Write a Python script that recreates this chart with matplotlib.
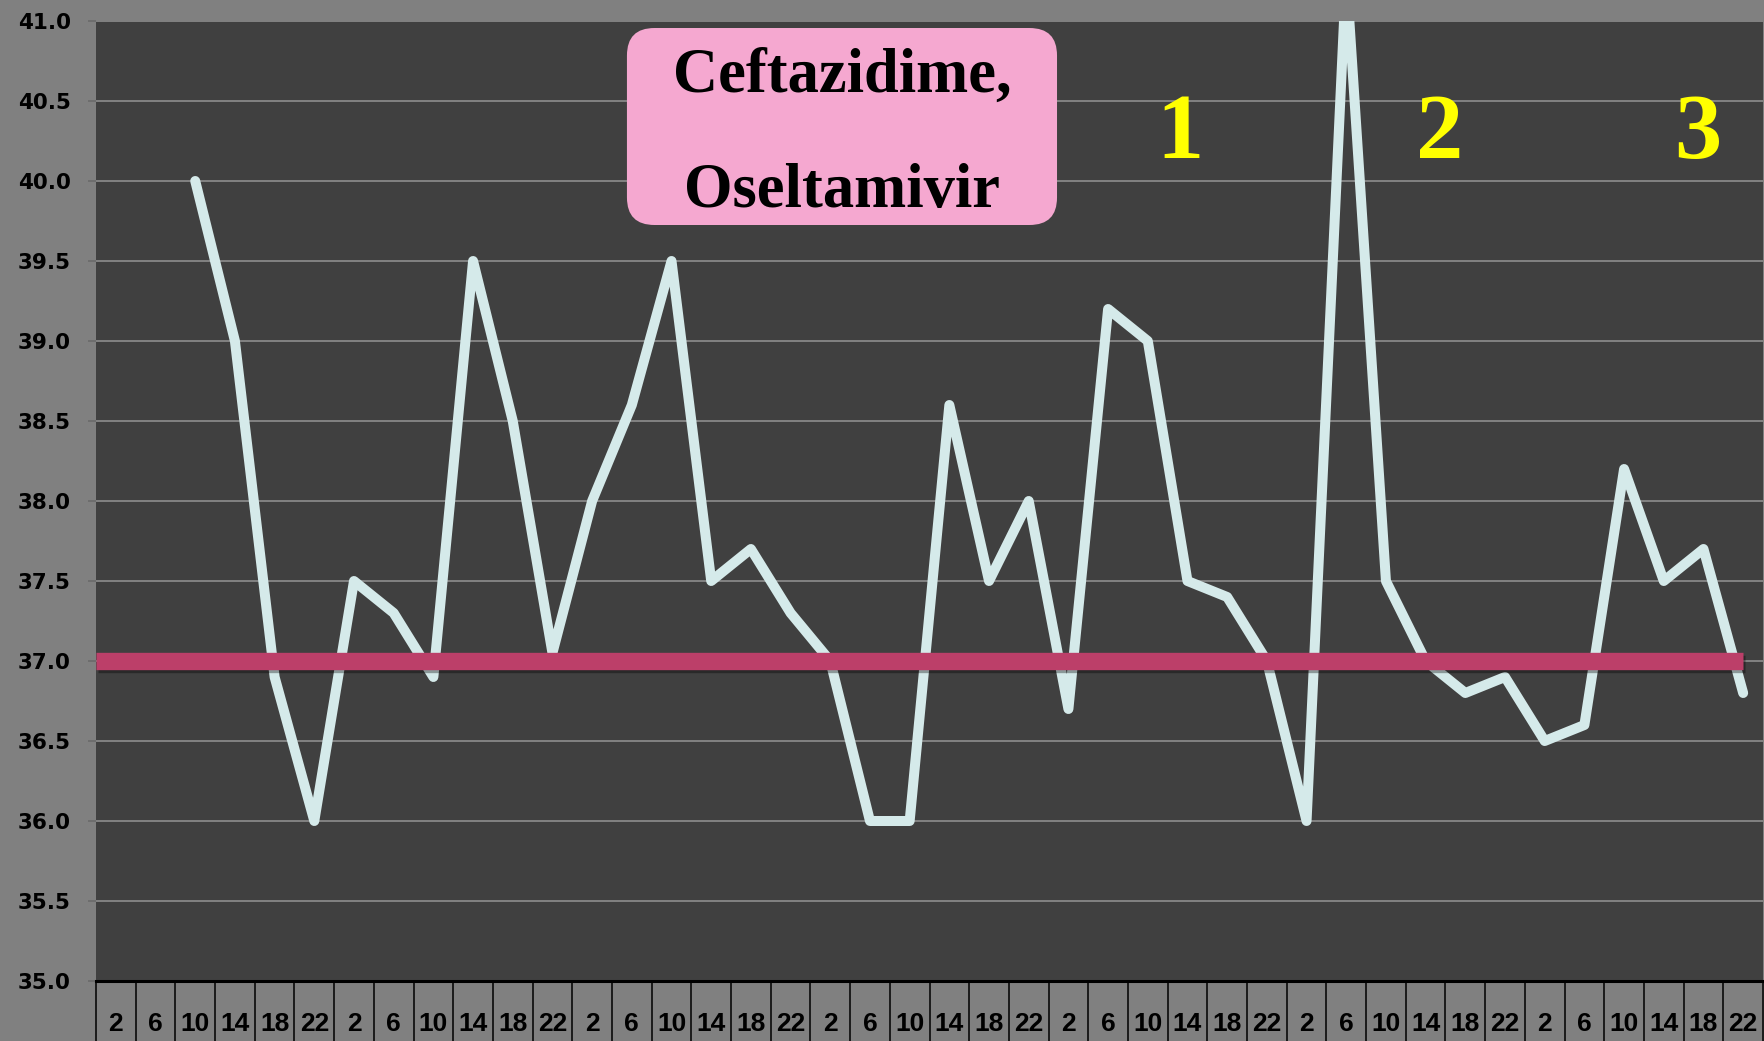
import matplotlib
matplotlib.use("Agg")
import matplotlib.pyplot as plt
import matplotlib.patheffects as pe
from matplotlib.patches import FancyBboxPatch
from matplotlib.ticker import FixedLocator, MultipleLocator, FormatStrFormatter
import numpy as np

# ---- data ----
hours = [2, 6, 10, 14, 18, 22] * 7
temps = [np.nan, np.nan, 40.0, 39.0, 36.9, 36.0,
         37.5, 37.3, 36.9, 39.5, 38.5, 37.05,
         38.0, 38.6, 39.5, 37.5, 37.7, 37.3,
         37.0, 36.0, 36.0, 38.6, 37.5, 38.0,
         36.7, 39.2, 39.0, 37.5, 37.4, 37.0,
         36.0, 41.3, 37.5, 37.0, 36.8, 36.9,
         36.5, 36.6, 38.2, 37.5, 37.7, 36.8]
norm_temp = 37.0
box_lines = ["Ceftazidime,", "Oseltamivir"]
phase_labels = ["1", "2", "3"]
phase_x = [0.650, 0.806, 0.961]

W, H = 1765, 1041
fig = plt.figure(figsize=(W / 100, H / 100), dpi=100, facecolor="#808080")
L, R, T, B = 96, 1763, 21, 981
ax = fig.add_axes([L / W, 1 - B / H, (R - L) / W, (B - T) / H])
ax.set_facecolor("#404040")

n = len(hours)
x = np.arange(n)
ax.set_xlim(-0.5, n - 0.5)
ax.set_ylim(35, 41)

# grid
ax.yaxis.set_major_locator(MultipleLocator(0.5))
ax.yaxis.set_major_formatter(FormatStrFormatter("%.1f"))
ax.grid(axis="y", color="#888888", linewidth=1.3, zorder=0)
ax.set_axisbelow(True)

# data line
ax.plot(x, temps, color="#D5EAEA", linewidth=7.2, solid_joinstyle="round",
        solid_capstyle="round", zorder=3)

# normal temperature line
ax.hlines(norm_temp, -0.5, n - 1, colors="#BC3F69", linewidth=12.5, zorder=4,
          capstyle="butt",
          path_effects=[pe.SimpleLineShadow(offset=(1.5, -2.5), shadow_color="black", alpha=0.35),
                        pe.Normal()])

# spines
for s in ["top", "right", "left"]:
    ax.spines[s].set_visible(False)
ax.spines["bottom"].set_color("black")
ax.spines["bottom"].set_linewidth(2.2)

# y ticks
ax.tick_params(axis="y", length=6, width=1.2, color="#6a6a6a", pad=12,
               labelsize=15.5, labelcolor="black")
for lab in ax.get_yticklabels():
    lab.set_fontweight("bold")
    lab.set_family("DejaVu Sans")

# x ticks: labels at centers, separators at boundaries
ax.set_xticks(x)
ax.set_xticklabels([str(h) for h in hours], fontsize=19, fontweight="bold",
                   family="Liberation Sans")
ax.tick_params(axis="x", which="major", length=0, pad=22)
ax.xaxis.set_minor_locator(FixedLocator(np.arange(-0.5, n, 1.0)))
ax.tick_params(axis="x", which="minor", length=45, width=1.1, color="black", direction="out")

# pink annotation box
box = FancyBboxPatch((0.3185, 0.7875), 0.5765 - 0.3185, 0.9927 - 0.7875,
                     boxstyle="round,pad=0,rounding_size=0.0165",
                     mutation_aspect=(R - L) / (B - T),
                     transform=ax.transAxes, facecolor="#F5A8D0", edgecolor="none",
                     zorder=5)
ax.add_patch(box)
ax.text(0.4475, 0.926, box_lines[0], transform=ax.transAxes, ha="center", va="baseline",
        fontsize=45, fontweight="bold", family="Liberation Serif", color="black", zorder=6)
ax.text(0.4475, 0.806, box_lines[1], transform=ax.transAxes, ha="center", va="baseline",
        fontsize=45, fontweight="bold", family="Liberation Serif", color="black", zorder=6)

# yellow phase numbers
for lbl, px in zip(phase_labels, phase_x):
    ax.text(px, 0.857, lbl, transform=ax.transAxes, ha="center", va="baseline",
            fontsize=68, fontweight="bold", family="Liberation Serif", color="#FFFF00",
            zorder=6)

fig.savefig("out.png", dpi=100, facecolor=fig.get_facecolor())
